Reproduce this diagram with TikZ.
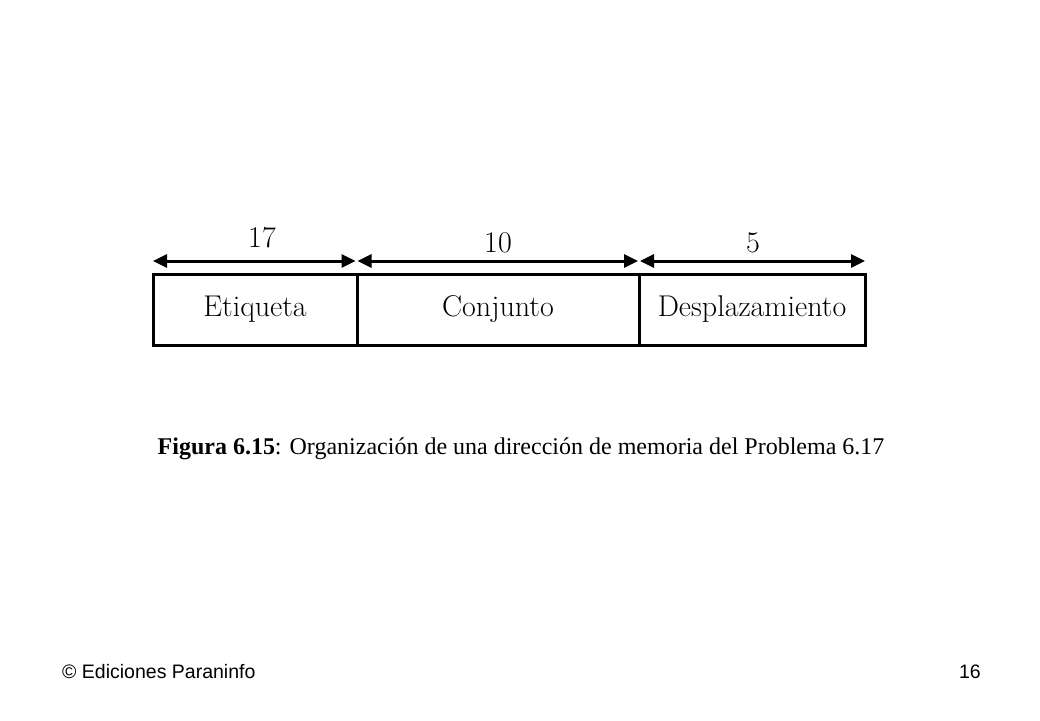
\documentclass[tikz,border=0pt]{standalone}
\usepackage{fontspec}
\newfontfamily\capfont{Liberation Serif}
\newfontfamily\footfont{Liberation Sans}
\usetikzlibrary{arrows.meta}
\begin{document}
\begin{tikzpicture}[x=1pt,y=-1pt,
  field/.style={draw,line width=3pt,minimum height=71pt,inner sep=0pt,font=\fontsize{30}{34}\selectfont},
  dim/.style={line width=3pt,{Triangle[length=14pt,width=13pt]}-{Triangle[length=14pt,width=13pt]}},
  dimlabel/.style={inner sep=0pt,font=\fontsize{30}{34}\selectfont},
  captext/.style={inner sep=0pt,font=\capfont\fontsize{24}{28}\selectfont},
  foot/.style={inner sep=0pt,font=\footfont\fontsize{19.5}{23}\selectfont}]
\useasboundingbox (0,0) rectangle (1040,720);
\node[field,minimum width=204pt] (et) at (255,309.5) {Etiqueta};
\node[field,minimum width=282pt] (co) at (498,309.5) {Conjunto};
\node[field,minimum width=226pt] (de) at (752,309.5) {Desplazamiento};
\coordinate (a0) at (153,261);
\coordinate (a1) at (356.5,261);
\coordinate (a2) at (639,261);
\coordinate (a3) at (865,261);
\draw[dim] (a0) -- ([xshift=-1pt]a1);
\draw[dim] ([xshift=1pt]a1) -- ([xshift=-1pt]a2);
\draw[dim] ([xshift=1pt]a2) -- (a3);
\node[dimlabel] (l1) at (262,238) {17};
\node[dimlabel] (l2) at (498,243) {10};
\node[dimlabel] (l3) at (753,243) {5};
\node[captext] (caption) at (521,449) {\textbf{Figura 6.15}: Organización de una dirección de memoria del Problema 6.17};
\node[foot,anchor=west] (copy) at (62,672) {© Ediciones Paraninfo};
\node[foot,anchor=east] (page) at (981,672) {16};
\end{tikzpicture}
\end{document}
